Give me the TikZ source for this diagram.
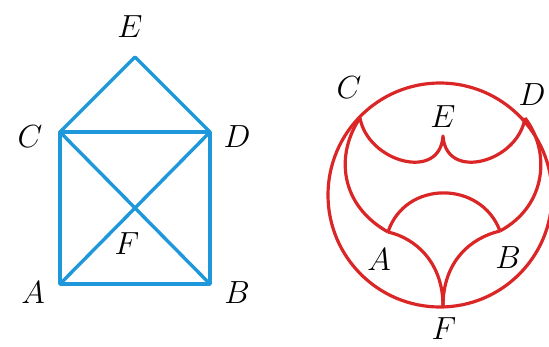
\RequirePackage{fix-cm}
\documentclass[tikz,border=0pt]{standalone}
\definecolor{gblue}{RGB}{30,152,218}
\definecolor{gred}{RGB}{218,38,38}
\tikzset{
  lbl/.style={font=\fontsize{32}{36}\selectfont, inner sep=0pt},
  bedge/.style={draw=gblue, line width=3.4pt, line cap=round, line join=round},
  redge/.style={draw=gred, line width=3.2pt, line join=round},
}
\begin{document}
\begin{tikzpicture}[x=1pt,y=-1pt]
\useasboundingbox (0,0) rectangle (549,346);
% left graph
\coordinate (A) at (60,284);
\coordinate (B) at (210,284);
\coordinate (C) at (60,132);
\coordinate (D) at (210,132);
\coordinate (E) at (135,57);
\coordinate (F) at (135,208);
\draw[bedge] (A) -- (B) -- (D) -- (C) -- cycle;
\draw[bedge] (C) -- (E) -- (D);
\draw[bedge] (A) -- (F) -- (D);
\draw[bedge] (C) -- (F) -- (B);
\node[lbl] (lA) at (33,293) {$A$};
\node[lbl] (lB) at (237,293) {$B$};
\node[lbl] (lC) at (30,137) {$C$};
\node[lbl] (lD) at (237,137) {$D$};
\node[lbl] (lE) at (130,27) {$E$};
\node[lbl] (lF) at (127,244) {$F$};
% right graph
\coordinate (O) at (440,195);
\coordinate (rA) at (388,232);
\coordinate (rB) at (500,231);
\coordinate (rC) at (360,118);
\coordinate (rD) at (525,118);
\coordinate (rE) at (443,136);
\coordinate (rF) at (443,306);
\draw[redge] (O) circle[radius=112];
\draw[redge] (rC) .. controls (368,162) and (440,182) .. (rE)
  .. controls (446,182) and (518,162) .. (rD);
\draw[redge] (rC) .. controls (335,155) and (340,205) .. (rA);
\draw[redge] (rD) .. controls (550,150) and (548,205) .. (rB);
\draw[redge] (rA) .. controls (405,180) and (481,180) .. (rB);
\draw[redge] (rA) .. controls (415,238) and (443,262) .. (rF);
\draw[redge] (rB) .. controls (470,238) and (443,262) .. (rF);
\node[lbl] (mA) at (379,260) {$A$};
\node[lbl] (mB) at (508,258) {$B$};
\node[lbl] (mC) at (349,88) {$C$};
\node[lbl] (mD) at (532,95) {$D$};
\node[lbl] (mE) at (443,117) {$E$};
\node[lbl] (mF) at (444,329) {$F$};
\end{tikzpicture}
\end{document}
